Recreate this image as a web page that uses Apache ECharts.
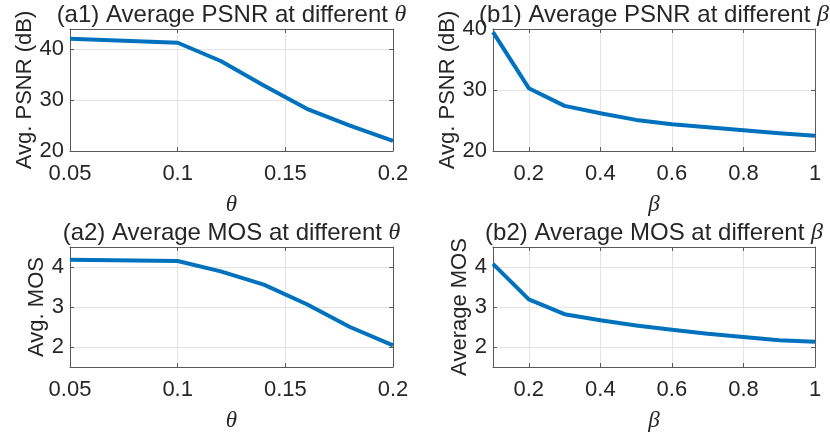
<!DOCTYPE html>
<html>
<head>
<meta charset="utf-8">
<script src="https://cdn.jsdelivr.net/npm/echarts@6/dist/echarts.min.js"></script>
<style>
html,body{margin:0;padding:0;background:#fff;}
#chart{width:830px;height:436px;}
</style>
</head>
<body>
<div id="chart"></div>
<script>
// ---- data ----
const thetaValues = [0.05, 0.1, 0.12, 0.14, 0.16, 0.18, 0.2];
const betaValues = [0.1, 0.2, 0.3, 0.4, 0.5, 0.6, 0.7, 0.8, 0.9, 1.0];
const psnrTheta = [42.1, 41.3, 37.7, 32.9, 28.3, 25.0, 22.0];
const psnrBeta = [39.5, 30.3, 27.4, 26.2, 25.1, 24.4, 23.9, 23.4, 22.9, 22.5];
const mosTheta = [4.18, 4.15, 3.89, 3.56, 3.07, 2.50, 2.04];
const mosBeta = [4.08, 3.19, 2.82, 2.67, 2.54, 2.43, 2.33, 2.25, 2.17, 2.13];
const thetaTicks = [0.05, 0.1, 0.15, 0.2];
const betaTicks = [0.2, 0.4, 0.6, 0.8, 1];
const psnrTicks = [20, 30, 40];
const mosTicks = [2, 3, 4];
const titles = [
  ['(a1) Average PSNR at different ', 'θ'],
  ['(b1) Average PSNR at different ', 'β'],
  ['(a2) Average MOS at different ', 'θ'],
  ['(b2) Average MOS at different ', 'β']
];
const yNames = ['Avg. PSNR (dB)', 'Avg. PSNR (dB)', 'Avg. MOS', 'Average MOS'];
const xNames = ['θ', 'β', 'θ', 'β'];

// ---- layout / style ----
const SANS = 'Liberation Sans, Arial, Helvetica, sans-serif';
const SERIF = 'Liberation Serif, Times New Roman, serif';
const TXT = '#262626';
const BOX = '#5a5a5a';
const panels = [
  {grid:{left:70, top:29, width:323, height:122}, x:thetaValues, y:psnrTheta, xr:[0.05,0.2], yr:[20,44], xt:thetaTicks, yt:psnrTicks, yGap:24},
  {grid:{left:493, top:29, width:322, height:122}, x:betaValues, y:psnrBeta, xr:[0.1,1], yr:[20,40], xt:betaTicks, yt:psnrTicks, yGap:24},
  {grid:{left:70, top:247, width:323, height:120}, x:thetaValues, y:mosTheta, xr:[0.05,0.2], yr:[1.5,4.5], xt:thetaTicks, yt:mosTicks, yGap:22},
  {grid:{left:493, top:247, width:322, height:120}, x:betaValues, y:mosBeta, xr:[0.1,1], yr:[1.5,4.5], xt:betaTicks, yt:mosTicks, yGap:22}
];

const option = {
  animation:false,
  backgroundColor:'#fff',
  grid:[], xAxis:[], yAxis:[], series:[], graphic:[]
};

panels.forEach((p, i) => {
  option.grid.push(Object.assign({containLabel:false}, p.grid));
  const lineStyle = {color:BOX, width:1};
  const tick = {show:true, inside:true, length:4, lineStyle:{color:BOX, width:1}};
  // bottom x
  option.xAxis.push({
    type:'value', gridIndex:i, position:'bottom', min:p.xr[0], max:p.xr[1],
    axisLine:{show:true, onZero:false, lineStyle},
    axisTick:Object.assign({customValues:p.xt}, tick),
    axisLabel:{customValues:p.xt, color:TXT, fontFamily:SANS, fontSize:22, margin:12},
    splitLine:{show:true, lineStyle:{color:'#e3e3e3', width:1}},
    name:xNames[i], nameLocation:'middle', nameGap:42,
    nameTextStyle:{fontFamily:SERIF, fontStyle:'italic', fontSize:23, color:TXT}
  });
  // top x
  option.xAxis.push({
    type:'value', gridIndex:i, position:'top', min:p.xr[0], max:p.xr[1],
    axisLine:{show:true, onZero:false, lineStyle},
    axisTick:Object.assign({customValues:p.xt}, tick),
    axisLabel:{show:false}, splitLine:{show:false}
  });
  // left y
  option.yAxis.push({
    type:'value', gridIndex:i, position:'left', min:p.yr[0], max:p.yr[1],
    axisLine:{show:true, onZero:false, lineStyle},
    axisTick:Object.assign({customValues:p.yt}, tick),
    axisLabel:{customValues:p.yt, color:TXT, fontFamily:SANS, fontSize:22, margin:6},
    splitLine:{show:true, lineStyle:{color:'#e3e3e3', width:1}},
    name:yNames[i], nameLocation:'middle', nameGap:p.yGap,
    nameTextStyle:{fontFamily:SANS, fontSize:22, color:TXT}
  });
  // right y
  option.yAxis.push({
    type:'value', gridIndex:i, position:'right', min:p.yr[0], max:p.yr[1],
    axisLine:{show:true, onZero:false, lineStyle},
    axisTick:Object.assign({customValues:p.yt}, tick),
    axisLabel:{show:false}, splitLine:{show:false}
  });
  option.series.push({
    type:'line', xAxisIndex:2*i, yAxisIndex:2*i,
    data:p.x.map((v, k) => [v, p.y[k]]),
    showSymbol:false, symbol:'none', z:5,
    lineStyle:{color:'#0072BD', width:4, join:'round'}
  });
  option.graphic.push({
    type:'text',
    x:p.grid.left + p.grid.width/2,
    y:p.grid.top - 14,
    z:10,
    style:{
      text:titles[i][0] + '{g|' + titles[i][1] + '}',
      align:'center', verticalAlign:'middle',
      fontFamily:SANS, fontSize:24, fill:TXT,
      rich:{g:{fontFamily:SERIF, fontStyle:'italic', fontSize:24, fill:TXT}}
    }
  });
});

const chart = echarts.init(document.getElementById('chart'), null, {renderer:'canvas'});
chart.setOption(option);
</script>
</body>
</html>
